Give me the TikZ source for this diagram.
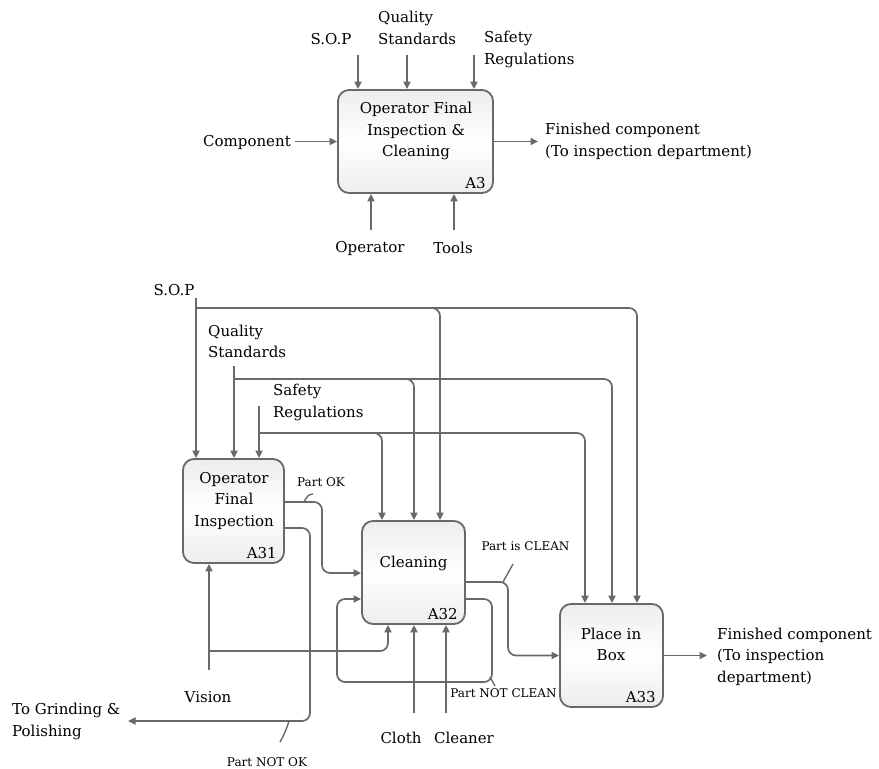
\documentclass[tikz,border=0pt]{standalone}
\usepackage{fontspec}
\setmainfont{DejaVu Serif}
\usetikzlibrary{arrows.meta,calc}
\definecolor{ln}{RGB}{105,105,105}
\begin{document}
\begin{tikzpicture}[x=1pt,y=-1pt,
  proc/.style={draw=ln, line width=1.8pt, rounded corners=11pt, top color=gray!14, bottom color=gray!14, middle color=white, inner sep=0},
  txt/.style={font=\fontsize{15}{21.5}\selectfont, inner sep=0, align=center},
  sml/.style={font=\fontsize{12}{14}\selectfont, inner sep=0},
  con/.style={draw=ln, line width=1.7pt, rounded corners=8pt},
  arr/.style={con, -{Triangle[length=7.5pt,width=7pt]}},
  tick/.style={draw=ln, line width=1.4pt},
]
\useasboundingbox (0,0) rectangle (879,769);

% ---------- top diagram ----------
\node[proc, minimum width=155pt, minimum height=103pt] (a3) at (415.5,141.5) {};
\node[txt] (a3t) at (416,131) {Operator Final\\Inspection \&\\Cleaning};
\node[txt, anchor=east] (a3l) at ($(a3.south east)+(-8,-10.5)$) {A3};

\node[txt] (tsop) at (331,39) {S.O.P};
\node[txt, align=left, anchor=west] (tqs) at (378,28) {Quality\\Standards};
\node[txt, align=left, anchor=west] (tsr) at (484,49.5) {Safety\\Regulations};
\node[txt, anchor=east] (tcomp) at (291,142) {Component};
\node[txt, align=left, anchor=west] (tfin) at (545,141.5) {Finished component\\(To inspection department)};
\node[txt] (top) at (370,248) {Operator};
\node[txt] (ttools) at (453,248) {Tools};

\coordinate (s1) at (358,55);
\coordinate (q1) at (407,55);
\coordinate (r1) at (474,55);
\coordinate (cin) at (295,141.5);
\coordinate (cout) at (538,141.5);
\coordinate (o1) at (371,230);
\coordinate (tl1) at (454,230);
\draw[arr] (s1) -- (s1 |- a3.north);
\draw[arr] (q1) -- (q1 |- a3.north);
\draw[arr] (r1) -- (r1 |- a3.north);
\draw[arr] (cin) -- (cin -| a3.west);
\draw[arr] (cout -| a3.east) -- (cout);
\draw[arr] (o1) -- (o1 |- a3.south);
\draw[arr] (tl1) -- (tl1 |- a3.south);

% ---------- bottom diagram ----------
\node[proc, minimum width=101pt, minimum height=104pt] (a31) at (233.5,511) {};
\node[proc, minimum width=103pt, minimum height=103pt] (a32) at (413.5,572.5) {};
\node[proc, minimum width=103pt, minimum height=103pt] (a33) at (611.5,655.5) {};
\node[txt] (a31t) at (234,500.5) {Operator\\Final\\Inspection};
\node[txt] (a32t) at (413.5,563) {Cleaning};
\node[txt] (a33t) at (611,644.5) {Place in\\Box};
\node[txt, anchor=east] (a31l) at ($(a31.south east)+(-8,-10.5)$) {A31};
\node[txt, anchor=east] (a32l) at ($(a32.south east)+(-8,-11)$) {A32};
\node[txt, anchor=east] (a33l) at ($(a33.south east)+(-8,-11)$) {A33};

\node[txt] (bsop) at (174,290) {S.O.P};
\node[txt, align=left, anchor=west] (bqs) at (208,341.5) {Quality\\Standards};
\node[txt, align=left, anchor=west] (bsr) at (273,402.5) {Safety\\Regulations};
\node[txt] (bvis) at (208,697) {Vision};
\node[txt, align=left, anchor=west] (bgrind) at (12,721.5) {To Grinding \&\\Polishing};
\node[txt] (bcloth) at (401,738) {Cloth};
\node[txt] (bclean) at (464,738) {Cleaner};
\node[txt, align=left, anchor=west] (bfin) at (717,656.5) {Finished component\\(To inspection\\department)};
\node[sml] (lpok) at (321,482) {Part OK};
\node[sml] (lpnok) at (267,762) {Part NOT OK};
\node[sml] (lpc) at (525.5,546) {Part is CLEAN};
\node[sml] (lpnc) at (503.5,693) {Part NOT CLEAN};

% controls: S.O.P
\coordinate (bs0) at (196,298);
\coordinate (bs1) at (196,308);
\coordinate (bs2) at (440,308);
\coordinate (bs3) at (637,308);
\draw[arr] (bs0) -- (bs0 |- a31.north);
\draw[arr] (bs1) -- (bs2) -- (bs2 |- a32.north);
\draw[arr] (bs1) -- (bs3) -- (bs3 |- a33.north);
% Quality standards
\coordinate (bq0) at (234,366);
\coordinate (bq1) at (234,379);
\coordinate (bq2) at (414,379);
\coordinate (bq3) at (612,379);
\draw[arr] (bq0) -- (bq0 |- a31.north);
\draw[arr] (bq1) -- (bq2) -- (bq2 |- a32.north);
\draw[arr] (bq1) -- (bq3) -- (bq3 |- a33.north);
% Safety regulations
\coordinate (br0) at (259,406);
\coordinate (br1) at (259,433);
\coordinate (br2) at (382,433);
\coordinate (br3) at (585,433);
\draw[arr] (br0) -- (br0 |- a31.north);
\draw[arr] (br1) -- (br2) -- (br2 |- a32.north);
\draw[arr] (br1) -- (br3) -- (br3 |- a33.north);

% Part OK
\coordinate (pk1) at (322,502);
\coordinate (pk2) at (322,573);
\draw[arr] (a31.east |- pk1) -- (pk1) -- (pk2) -- (pk2 -| a32.west);
\draw[tick] (304,502) .. controls (306.5,497) and (308.5,494) .. (313,494);

% Part NOT OK
\coordinate (pn1) at (310,528);
\coordinate (pn2) at (310,721);
\coordinate (pn3) at (128,721);
\draw[arr] (a31.east |- pn1) -- (pn1) -- (pn2) -- (pn3);
\draw[tick] (289,721) .. controls (287,728) and (284,735) .. (280,742);

% Vision
\coordinate (v0) at (209,670);
\coordinate (v1) at (209,651);
\coordinate (v2) at (388,651);
\draw[arr] (v0) -- (v0 |- a31.south);
\draw[arr] (v1) -- (v2) -- (v2 |- a32.south);

% Part is CLEAN
\coordinate (pc1) at (508,582);
\coordinate (pc2) at (508,655.5);
\draw[arr] (a32.east |- pc1) -- (pc1) -- (pc2) -- (pc2 -| a33.west);
\draw[tick] (503,582) -- (513,564);

% Part NOT CLEAN
\coordinate (nc1) at (492,599);
\coordinate (nc2) at (492,682);
\coordinate (nc3) at (337,682);
\coordinate (nc4) at (337,599);
\draw[arr] (a32.east |- nc1) -- (nc1) -- (nc2) -- (nc3) -- (nc4) -- (nc4 -| a32.west);
\draw[tick] (490,677) -- (495,686);

% Cloth, Cleaner
\coordinate (cl0) at (414,713);
\coordinate (cn0) at (446,713);
\draw[arr] (cl0) -- (cl0 |- a32.south);
\draw[arr] (cn0) -- (cn0 |- a32.south);

% output
\coordinate (fo) at (707,655.5);
\draw[arr] (a33.east) -- (fo);
\end{tikzpicture}
\end{document}
